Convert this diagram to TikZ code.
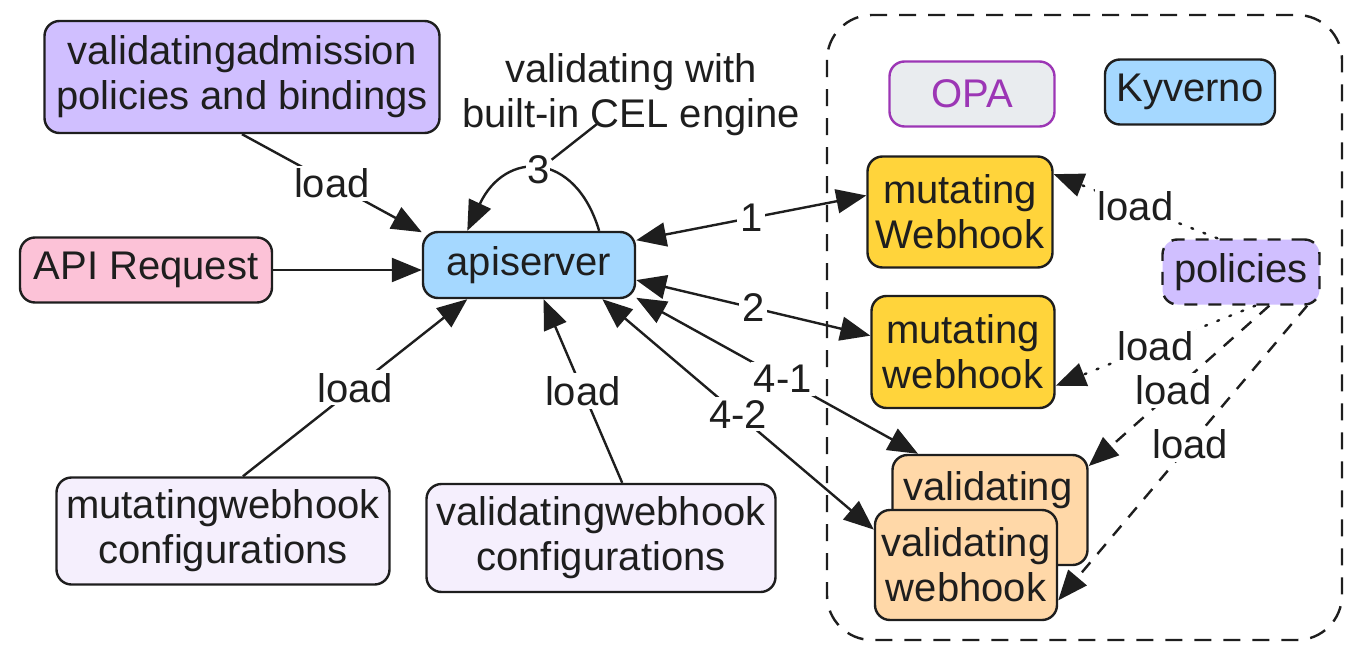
\documentclass[tikz,border=0pt]{standalone}
\usepackage{fontspec}
\setmainfont{Liberation Sans}
\usetikzlibrary{arrows.meta}
\definecolor{ink}{HTML}{1E1E1E}
\definecolor{cviolet}{HTML}{D0BFFF}
\definecolor{cpink}{HTML}{FCC2D7}
\definecolor{cblue}{HTML}{A5D8FF}
\definecolor{clight}{HTML}{F5EFFD}
\definecolor{cgray}{HTML}{E9ECEF}
\definecolor{cpurple}{HTML}{9C36B5}
\definecolor{cyellow}{HTML}{FFD43B}
\definecolor{corange}{HTML}{FFD8A8}
\begin{document}
\begin{tikzpicture}[x=1pt,y=-1pt,
  box/.style={draw=ink, line width=2.4pt, rounded corners=15pt, align=center,
    font=\fontsize{40}{45}\selectfont, text=ink, inner sep=0pt},
  txt/.style={align=center, font=\fontsize{40}{45}\selectfont, text=ink, inner sep=0pt},
  lbl/.style={font=\fontsize{40}{45}\selectfont, text=ink, fill=white, inner sep=3pt},
  arr/.style={draw=ink, line width=2.4pt, -{Triangle[length=30pt,width=24pt]}},
  darr/.style={draw=ink, line width=2.4pt, {Triangle[length=30pt,width=24pt]}-{Triangle[length=30pt,width=24pt]}},
  plain/.style={draw=ink, line width=2.4pt},
  dotline/.style={dash pattern=on 2pt off 11pt, line cap=round},
  dashline/.style={dash pattern=on 13pt off 11pt},
]
\useasboundingbox (0,0) rectangle (1365,669);

% framing dashed region
\draw[ink, line width=2.4pt, dash pattern=on 17pt off 12pt, rounded corners=45pt]
  (827,15) rectangle (1342,640);

% nodes
\node[box, fill=cviolet, minimum width=395pt, minimum height=112pt] (vap) at (242,77)
  {validatingadmission\\policies and bindings};
\node[box, fill=cpink, minimum width=252pt, minimum height=65pt] (apireq) at (146,270) {API Request};
\node[box, fill=cblue, minimum width=212pt, minimum height=66pt] (api) at (529,265) {apiserver};
\node[box, fill=clight, minimum width=333pt, minimum height=107pt] (mwc) at (223,531)
  {mutatingwebhook\\configurations};
\node[box, fill=clight, minimum width=349pt, minimum height=108pt] (vwc) at (601,538)
  {validatingwebhook\\configurations};
\node[txt] (cel) at (631,95) {validating with\\built-in CEL engine};
\coordinate (celpt) at (597,124);

\node[box, draw=cpurple, fill=cgray, text=cpurple, minimum width=165pt, minimum height=65pt] (opa) at (972,94) {OPA};
\node[box, fill=cblue, minimum width=170pt, minimum height=65pt] (kyv) at (1190,92) {Kyverno};
\node[box, fill=cyellow, minimum width=185pt, minimum height=111pt] (mw1) at (960,212) {mutating\\Webhook};
\node[box, fill=cyellow, minimum width=183pt, minimum height=112pt] (mw2) at (963,352) {mutating\\webhook};
\node[box, fill=corange, minimum width=195pt, minimum height=110pt] (vb) at (990,510) {};
\node[txt] (vbt) at (988,490) {validating};
\node[box, fill=corange, minimum width=182pt, minimum height=110pt] (vf) at (966,565) {validating\\webhook};
\node[box, fill=cviolet, dashline, minimum width=157pt, minimum height=65pt] (pol) at (1241,272) {policies};

% connectors on the left
\draw[arr] (vap.south) -- (api.163) node[lbl, pos=0.5] {load};
\draw[arr] (apireq.east) -- (apireq.east -| api.west);
\draw[arr] (mwc.70) -- (api.-151) node[lbl, pos=0.5] {load};
\draw[arr] (vwc.69) -- (api.-67) node[lbl, pos=0.5] {load};
\draw[arr] (api.26) .. controls (575,150) and (505,150) .. (api.151) node[lbl, pos=0.5, inner sep=1pt] (three) {3};
\draw[plain] (three) -- (celpt);

% connectors to webhooks
\draw[darr] (api.13) -- (mw1.170) node[lbl, pos=0.5] {1};
\draw[darr] (api.-8) -- (mw2.170) node[lbl, pos=0.5] {2};
\draw[darr] (api.-17) -- (vb.142) node[lbl, pos=0.52] {4-1};
\draw[darr] (api.-25) -- (vf.159) node[lbl, pos=0.5] {4-2};

% policies loads
\draw[arr, dotline] (pol.125) -- (mw1.22) node[lbl, pos=0.5] {load};
\draw[arr, dotline] (pol.-67) -- (mw2.-20) node[lbl, pos=0.5] {load};
\draw[arr, dashline] (pol.-50) -- (vb.24) node[lbl, pos=0.53] {load};
\draw[arr, dashline] (pol.-27) -- (vf.-21) node[lbl, pos=0.47] {load};
\end{tikzpicture}
\end{document}
